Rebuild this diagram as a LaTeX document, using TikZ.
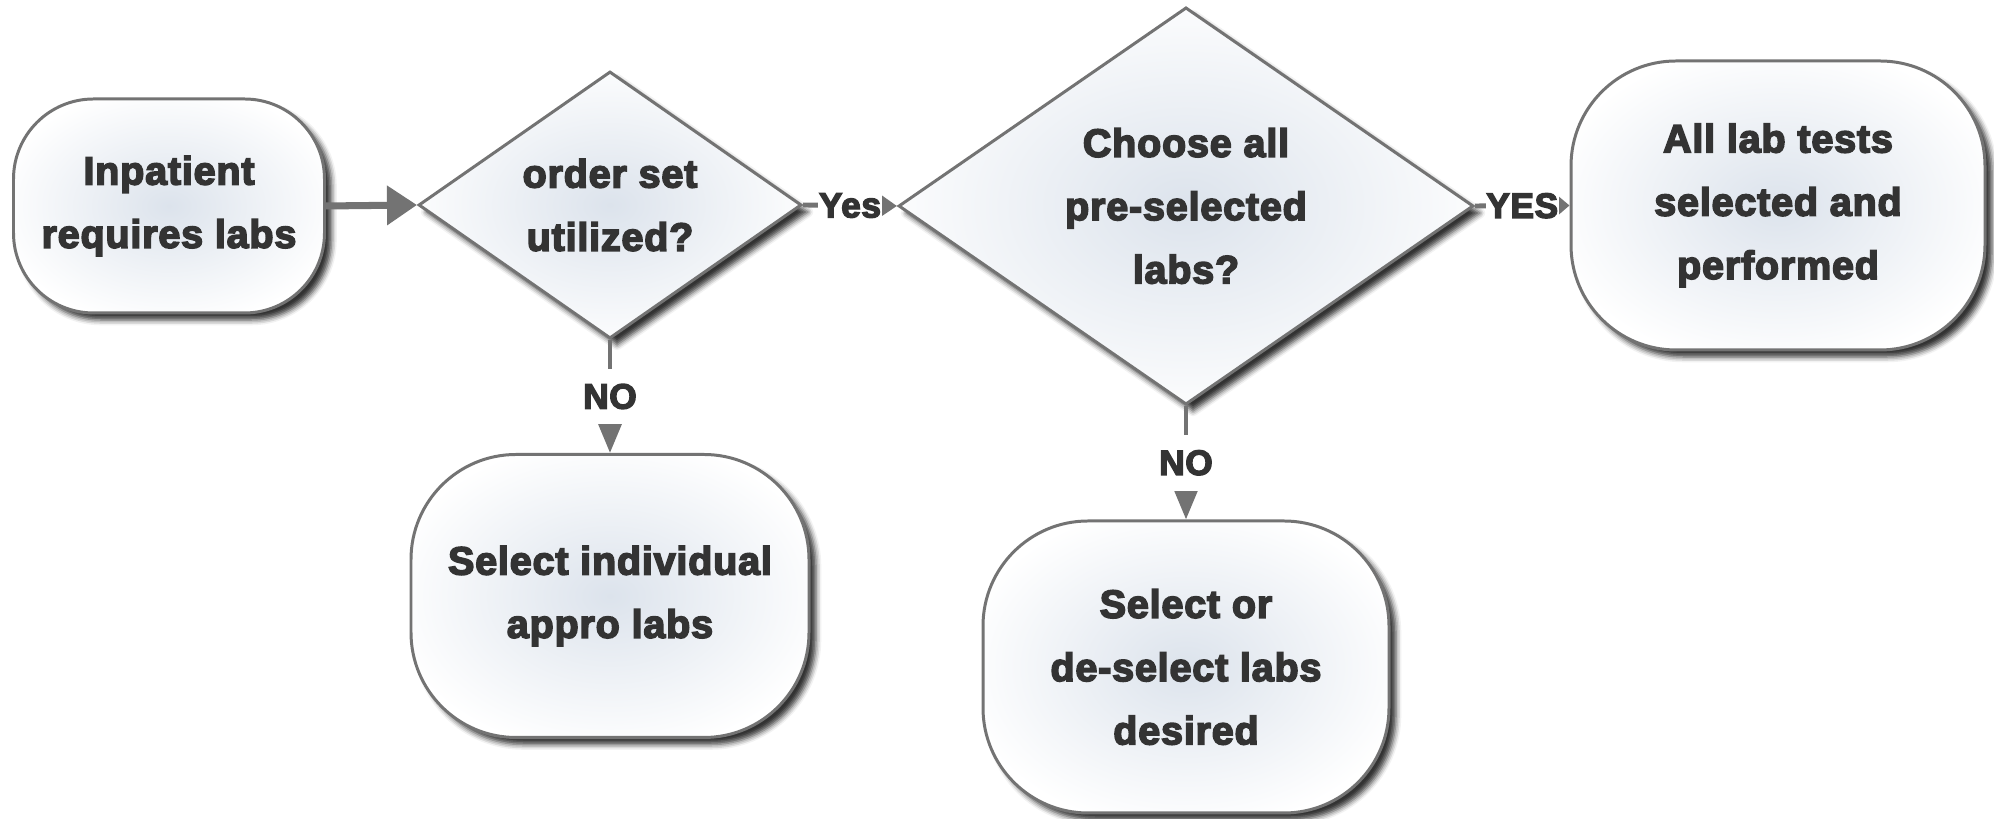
\documentclass[tikz,border=0pt]{standalone}
\usepackage{fontspec}
\newfontfamily\flowfont{Liberation Sans}[UprightFont={* Bold}, FakeBold=4, LetterSpace=2]
\usetikzlibrary{shapes.geometric,arrows.meta,shadows.blur}
\definecolor{edgegray}{RGB}{115,115,115}
\definecolor{inkgray}{RGB}{51,51,51}
\definecolor{shadecore}{RGB}{220,227,236}
\pgfdeclareradialshading{glow}{\pgfpoint{0cm}{0cm}}{color(0bp)=(shadecore); color(28bp)=(white); color(50bp)=(white)}

\begin{document}
\begin{tikzpicture}[
  box/.style={draw=edgegray, line width=1.7pt, rounded corners=2.1cm, shading=glow,
    blur shadow={shadow xshift=4pt, shadow yshift=-4pt, shadow blur radius=3pt, shadow opacity=80},
    align=center, text=inkgray, font=\flowfont\fontsize{22.5}{36}\selectfont},
  ask/.style={box, diamond, sharp corners, inner sep=0pt},
  yn/.style={fill=white, text=inkgray, inner xsep=0.5pt, inner ysep=8.8pt,
    font=\flowfont\fontsize{20}{24}\selectfont},
  link/.style={draw=edgegray, line width=2.8pt}]
\useasboundingbox (0,0) rectangle (39.88,16.38);

\node[box, minimum width=6.22cm, minimum height=4.28cm, rounded corners=1.6cm] (start) at (3.38,12.26) {Inpatient\\requires labs};
\node[ask, minimum width=7.66cm, minimum height=5.16cm] (q1) at (12.2,12.28) {order set\\utilized?};
\node[ask, minimum width=11.5cm, minimum height=7.86cm] (q2) at (23.72,12.26) {Choose all\\pre-selected\\labs?};
\node[box, minimum width=8.28cm, minimum height=5.78cm] (alldone) at (35.56,12.27) {All lab tests\\selected and\\performed};
\node[box, minimum width=7.96cm, minimum height=5.66cm] (sel1) at (12.2,4.46) {Select individual\\appro labs};
\node[box, minimum width=8.12cm, minimum height=5.84cm] (sel2) at (23.72,3.04) {Select or\\de-select labs\\desired};

\draw[link, line width=4pt, -{Triangle[length=0.6cm,width=0.76cm]}] (start.east) -- (q1.west);
\draw[link, -{Triangle[length=0.34cm,width=0.44cm]}] (q1.east) -- node[yn]{Yes} (q2.west);
\draw[link, -{Triangle[length=0.27cm,width=0.44cm]}] (q2.east) -- node[yn]{YES} (alldone.west);

\draw[link, -{Triangle[length=0.64cm,width=0.5cm]}] (q1.south) -- node[yn]{NO} (sel1.north);
\draw[link, -{Triangle[length=0.64cm,width=0.5cm]}] (q2.south) -- node[yn]{NO} (sel2.north);

\end{tikzpicture}
\end{document}
